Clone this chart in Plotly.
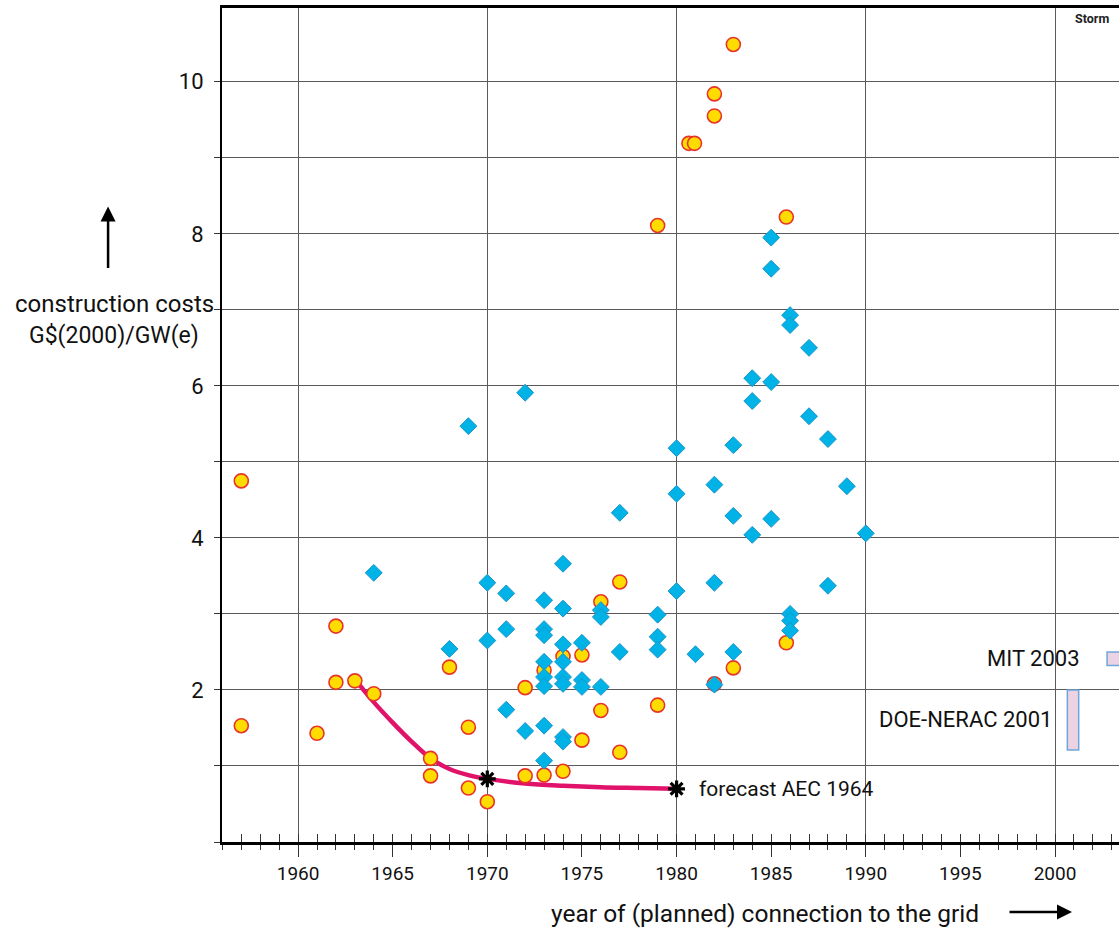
import plotly.graph_objects as go

# Realised plants (yellow circles)
circle_years = [1957, 1957, 1961, 1962, 1962, 1963, 1964, 1967, 1967, 1968,
                1969, 1969, 1970, 1972, 1972, 1973, 1973, 1974, 1974, 1975,
                1975, 1976, 1976, 1977, 1977, 1979, 1979, 1980.65, 1980.95, 1982,
                1982, 1982, 1983, 1983, 1985.8, 1985.8]
circle_costs = [4.75, 1.53, 1.43, 2.84, 2.10, 2.12, 1.95, 1.10, 0.87, 2.30,
                1.51, 0.71, 0.53, 2.03, 0.87, 0.88, 2.26, 0.93, 2.44, 1.34,
                2.46, 1.73, 3.16, 3.42, 1.18, 1.80, 8.11, 9.19, 9.19, 9.84,
                9.55, 2.08, 10.49, 2.29, 8.22, 2.62]

# Plants (blue diamonds)
diamond_years = [1964, 1968, 1969, 1970, 1970, 1971, 1971, 1971, 1972, 1972,
                 1973, 1973, 1973, 1973, 1973, 1973, 1973, 1973,
                 1974, 1974, 1974, 1974, 1974, 1974, 1974, 1974,
                 1975, 1975, 1975, 1976, 1976, 1976, 1977, 1977,
                 1979, 1979, 1979, 1980, 1980, 1980, 1981,
                 1982, 1982, 1982, 1983, 1983, 1983, 1984, 1984, 1984,
                 1985, 1985, 1985, 1985, 1986, 1986, 1986, 1986, 1986,
                 1987, 1987, 1988, 1988, 1989, 1990]
diamond_costs = [3.54, 2.54, 5.47, 3.41, 2.65, 3.27, 2.80, 1.74, 5.91, 1.46,
                 3.18, 2.80, 2.72, 2.37, 2.17, 2.05, 1.53, 1.07,
                 3.66, 3.07, 2.60, 2.37, 2.17, 2.08, 1.38, 1.32,
                 2.62, 2.13, 2.04, 3.05, 2.96, 2.04, 4.33, 2.50,
                 2.99, 2.70, 2.53, 5.18, 4.58, 3.30, 2.47,
                 4.70, 3.41, 2.07, 5.22, 4.29, 2.50, 6.10, 5.80, 4.04,
                 7.95, 7.54, 6.05, 4.25, 6.93, 6.80, 3.00, 2.91, 2.78,
                 6.50, 5.60, 5.30, 3.37, 4.68, 4.06]

# AEC 1964 forecast curve
forecast_years = [1963.2, 1964, 1965, 1966, 1967, 1968, 1969, 1970, 1972, 1974, 1976, 1978, 1980]
forecast_costs = [2.08, 1.84, 1.57, 1.32, 1.10, 0.96, 0.88, 0.83, 0.77, 0.74, 0.72, 0.71, 0.70]
forecast_marks_years = [1970, 1980]
forecast_marks_costs = [0.83, 0.70]

# Later cost estimates (ranges)
estimate_names = ["DOE-NERAC 2001", "MIT 2003"]
estimate_x0 = [2000.65, 2002.75]
estimate_x1 = [2001.25, 2003.8]
estimate_low = [1.21, 2.32]
estimate_high = [2.00, 2.50]
estimate_label_x = [1999.95, 2001.45]

grid_years = [1960, 1970, 1980, 1990, 2000]
y_ticks = list(range(0, 11))
y_ticktext = [str(v) if v % 2 == 0 and v > 0 else "" for v in y_ticks]

FONT = "Roboto"
GRID = "#5a5a5a"

fig = go.Figure()

fig.add_trace(go.Scatter(
    x=forecast_years, y=forecast_costs, mode="lines",
    line=dict(color="#E0126A", width=4.5, shape="spline", smoothing=1.0),
    hoverinfo="skip", showlegend=False))

fig.add_trace(go.Scatter(
    x=circle_years, y=circle_costs, mode="markers",
    marker=dict(symbol="circle", size=14, color="#FFDC00",
                line=dict(color="#E8332B", width=1.6)),
    showlegend=False))

fig.add_trace(go.Scatter(
    x=diamond_years, y=diamond_costs, mode="markers",
    marker=dict(symbol="diamond", size=13, color="#00B3E6",
                line=dict(color="#1C95CC", width=1)),
    showlegend=False))

fig.add_trace(go.Scatter(
    x=forecast_marks_years, y=forecast_marks_costs, mode="markers",
    marker=dict(symbol="asterisk", size=14, color="black",
                line=dict(color="black", width=3.2)),
    showlegend=False))

# companion axis carrying the 10-year grid and the inward year ticks
fig.add_trace(go.Scatter(x=[None], y=[None], xaxis="x2", showlegend=False,
                         hoverinfo="skip"))

for x0, x1, lo, hi in zip(estimate_x0, estimate_x1, estimate_low, estimate_high):
    fig.add_shape(type="rect", xref="x", yref="y", x0=x0, x1=x1, y0=lo, y1=hi,
                  fillcolor="#EBD3E3", line=dict(color="#6FA6DA", width=1.5),
                  layer="above")

for name, lx, lo, hi in zip(estimate_names, estimate_label_x, estimate_low, estimate_high):
    fig.add_annotation(x=lx, y=(lo + hi) / 2, xref="x", yref="y", text=name,
                       showarrow=False, xanchor="right", yanchor="middle",
                       font=dict(family=FONT, size=22, color="#111"))

fig.add_annotation(x=1981.1, y=forecast_marks_costs[1], xref="x", yref="y",
                   text="forecast AEC 1964", showarrow=False, xanchor="left",
                   yanchor="middle", font=dict(family=FONT, size=21, color="#111"))

# axis titles and arrows
fig.add_annotation(x=-0.12, y=0.645, xref="paper", yref="paper",
                   text="construction costs", showarrow=False,
                   xanchor="center", yanchor="middle",
                   font=dict(family=FONT, size=24, color="#111"))
fig.add_annotation(x=-0.12, y=0.607, xref="paper", yref="paper",
                   text="G$(2000)/GW(e)", showarrow=False,
                   xanchor="center", yanchor="middle",
                   font=dict(family=FONT, size=23, color="#111"))
fig.add_annotation(x=-0.127, y=0.762, xref="paper", yref="paper", text="",
                   showarrow=True, ax=0, ay=63, arrowhead=2, arrowsize=1.2,
                   arrowwidth=2.5, arrowcolor="black")
fig.add_annotation(x=0.605, y=-0.0863, xref="paper", yref="paper",
                   text="year of (planned) connection to the grid",
                   showarrow=False, xanchor="center", yanchor="middle",
                   font=dict(family=FONT, size=24.5, color="#111"))
fig.add_annotation(x=0.9476, y=-0.0839, xref="paper", yref="paper", text="",
                   showarrow=True, ax=-64, ay=0, arrowhead=2, arrowsize=1.2,
                   arrowwidth=2.5, arrowcolor="black")
fig.add_annotation(x=0.97, y=0.987, xref="paper", yref="paper", text="<b>Storm</b>",
                   showarrow=False, xanchor="center", yanchor="middle",
                   font=dict(family=FONT, size=12.5, color="#222"))

x_range = [1955.98, 2003.38]

fig.update_layout(
    width=1119, height=930,
    margin=dict(l=222, r=0, t=8, b=88),
    plot_bgcolor="white", paper_bgcolor="white",
    xaxis=dict(range=x_range, dtick=5, tick0=1960, showgrid=False, zeroline=False,
               ticks="outside", ticklen=12, tickwidth=1.3, tickcolor="#333",
               minor=dict(dtick=1, tick0=1960, ticks="outside", ticklen=5,
                          tickwidth=1.3, tickcolor="#333", showgrid=False),
               showline=True, linecolor="black", linewidth=2.5, mirror=True,
               ticklabelstandoff=0,
               tickfont=dict(family=FONT, size=19, color="#111")),
    xaxis2=dict(range=x_range, overlaying="x", anchor="y", side="bottom",
                tickvals=grid_years, showgrid=True, gridcolor=GRID, gridwidth=1.3,
                zeroline=False, showticklabels=False,
                ticks="inside", ticklen=8, tickwidth=1.3, tickcolor="#333",
                minor=dict(dtick=1, tick0=1960, ticks="inside", ticklen=8,
                           tickwidth=1.3, tickcolor="#333", showgrid=False),
                showline=False),
    yaxis=dict(range=[0, 10.97], tickvals=y_ticks, ticktext=y_ticktext,
               showgrid=True, gridcolor=GRID, gridwidth=1.3, zeroline=False,
               ticks="outside", ticklen=6, tickwidth=1.3, tickcolor="#333",
               showline=True, linecolor="black", linewidth=2,
               ticklabelstandoff=6,
               tickfont=dict(family=FONT, size=22, color="#111")),
)

fig.write_html("out.html")
